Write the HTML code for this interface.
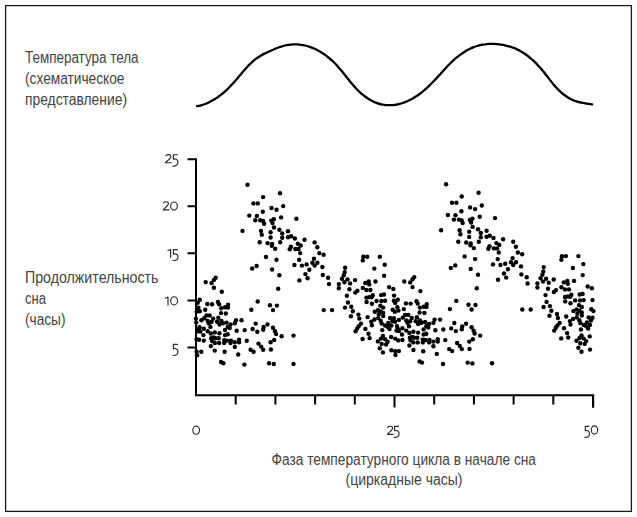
<!DOCTYPE html>
<html><head><meta charset="utf-8"><style>
html,body{margin:0;padding:0;background:#fff;width:637px;height:517px;overflow:hidden}
svg{display:block}
text{font-family:"Liberation Sans",sans-serif;fill:#444}
</style></head><body>
<svg width="637" height="517" viewBox="0 0 637 517">
<rect x="5.6" y="5.6" width="625.8" height="505.8" fill="none" stroke="#1a1a1a" stroke-width="1.3"/>
<path d="M197.1,106.2 C197.8,106.1 199.8,105.7 201.1,105.3 C202.4,104.9 203.8,104.5 205.1,104.0 C206.4,103.5 207.8,102.9 209.1,102.2 C210.4,101.6 211.8,100.9 213.1,100.1 C214.4,99.3 215.8,98.5 217.1,97.6 C218.4,96.6 219.8,95.7 221.1,94.6 C222.4,93.6 223.8,92.5 225.1,91.3 C226.4,90.1 227.8,88.8 229.1,87.5 C230.4,86.2 231.8,84.8 233.1,83.3 C234.4,81.8 235.8,80.3 237.1,78.7 C238.4,77.1 239.8,75.5 241.1,73.9 C242.4,72.3 243.8,70.7 245.1,69.2 C246.4,67.7 247.8,66.3 249.1,64.9 C250.4,63.6 251.8,62.3 253.1,61.1 C254.4,60.0 255.8,59.0 257.1,58.0 C258.4,57.1 259.8,56.3 261.1,55.5 C262.4,54.7 263.8,54.0 265.1,53.4 C266.4,52.7 267.8,52.1 269.1,51.5 C270.4,50.9 271.8,50.2 273.1,49.7 C274.4,49.1 275.8,48.5 277.1,48.0 C278.4,47.5 279.8,47.0 281.1,46.6 C282.4,46.2 283.8,45.8 285.1,45.5 C286.4,45.2 287.8,45.0 289.1,44.8 C290.4,44.6 291.8,44.5 293.1,44.4 C294.4,44.4 295.8,44.4 297.1,44.4 C298.4,44.5 299.8,44.6 301.1,44.8 C302.4,44.9 303.8,45.2 305.1,45.5 C306.4,45.8 307.8,46.2 309.1,46.6 C310.4,47.1 311.8,47.6 313.1,48.1 C314.4,48.7 315.8,49.3 317.1,50.0 C318.4,50.6 319.8,51.4 321.1,52.2 C322.4,53.0 323.8,53.9 325.1,54.9 C326.4,55.8 327.8,56.9 329.1,58.0 C330.4,59.1 331.8,60.3 333.1,61.5 C334.4,62.8 335.8,64.2 337.1,65.6 C338.4,67.1 339.8,68.7 341.1,70.3 C342.4,71.9 343.8,73.6 345.1,75.3 C346.4,77.0 347.8,78.7 349.1,80.3 C350.4,82.0 351.8,83.6 353.1,85.1 C354.4,86.6 355.8,88.1 357.1,89.5 C358.4,90.8 359.8,92.1 361.1,93.3 C362.4,94.4 363.8,95.5 365.1,96.5 C366.4,97.5 367.8,98.4 369.1,99.3 C370.4,100.1 371.8,100.8 373.1,101.4 C374.4,102.1 375.8,102.6 377.1,103.1 C378.4,103.6 379.8,104.0 381.1,104.3 C382.4,104.6 383.8,104.8 385.1,105.0 C386.4,105.1 387.8,105.2 389.1,105.2 C390.4,105.2 391.8,105.2 393.1,105.1 C394.4,104.9 395.8,104.7 397.1,104.5 C398.4,104.2 399.8,103.9 401.1,103.5 C402.4,103.1 403.8,102.6 405.1,102.1 C406.4,101.6 407.8,101.0 409.1,100.3 C410.4,99.7 411.8,98.9 413.1,98.2 C414.4,97.4 415.8,96.6 417.1,95.7 C418.4,94.8 419.8,93.8 421.1,92.8 C422.4,91.8 423.8,90.7 425.1,89.5 C426.4,88.4 427.8,87.1 429.1,85.9 C430.4,84.6 431.8,83.2 433.1,81.8 C434.4,80.5 435.8,79.0 437.1,77.6 C438.4,76.1 439.8,74.7 441.1,73.2 C442.4,71.7 443.8,70.2 445.1,68.7 C446.4,67.3 447.8,65.8 449.1,64.5 C450.4,63.1 451.8,61.8 453.1,60.6 C454.4,59.4 455.8,58.2 457.1,57.2 C458.4,56.1 459.8,55.0 461.1,54.1 C462.4,53.1 463.8,52.3 465.1,51.5 C466.4,50.6 467.8,49.9 469.1,49.2 C470.4,48.6 471.8,48.0 473.1,47.4 C474.4,46.9 475.8,46.4 477.1,46.0 C478.4,45.6 479.8,45.2 481.1,44.9 C482.4,44.6 483.8,44.4 485.1,44.3 C486.4,44.1 487.8,44.0 489.1,43.9 C490.4,43.9 491.8,43.9 493.1,43.9 C494.4,43.9 495.8,44.0 497.1,44.1 C498.4,44.3 499.8,44.4 501.1,44.6 C502.4,44.8 503.8,45.1 505.1,45.4 C506.4,45.7 507.8,46.0 509.1,46.4 C510.4,46.7 511.8,47.2 513.1,47.7 C514.4,48.2 515.8,48.7 517.1,49.4 C518.4,50.0 519.8,50.7 521.1,51.4 C522.4,52.2 523.8,53.1 525.1,54.0 C526.4,54.9 527.8,55.9 529.1,57.0 C530.4,58.1 531.8,59.2 533.1,60.4 C534.4,61.7 535.8,63.0 537.1,64.4 C538.4,65.8 539.8,67.3 541.1,68.8 C542.4,70.4 543.8,72.0 545.1,73.7 C546.4,75.4 547.8,77.2 549.1,78.9 C550.4,80.6 551.8,82.3 553.1,83.9 C554.4,85.5 555.8,87.0 557.1,88.4 C558.4,89.8 559.8,91.1 561.1,92.3 C562.4,93.5 563.8,94.6 565.1,95.5 C566.4,96.5 567.8,97.4 569.1,98.2 C570.4,99.0 571.8,99.6 573.1,100.2 C574.4,100.8 575.8,101.2 577.1,101.6 C578.4,102.0 579.8,102.3 581.1,102.6 C582.4,102.9 583.8,103.1 585.1,103.3 C586.4,103.5 587.9,103.7 589.1,103.9 C590.3,104.1 591.6,104.3 592.1,104.4" fill="none" stroke="#000" stroke-width="2.3" stroke-linecap="round"/>
<path d="M196,158.5 V395.2 H593.2 V407.5" fill="none" stroke="#000" stroke-width="2"/>
<path d="M187.5,347.4 H196 M187.5,300.4 H196 M187.5,253.3 H196 M187.5,206.2 H196 M187.5,159.2 H196 M235.7,395 V404.5 M275.4,395 V404.5 M315.1,395 V404.5 M354.8,395 V404.5 M394.5,395 V407.5 M434.2,395 V404.5 M473.9,395 V404.5 M513.6,395 V404.5 M553.3,395 V404.5 M593.0,395 V407.5 " fill="none" stroke="#000" stroke-width="2"/>
<g fill="#000"><circle cx="247.5" cy="184.8" r="2.2"/><circle cx="263.1" cy="197.1" r="2.2"/><circle cx="253.4" cy="203.4" r="2.2"/><circle cx="257.8" cy="203.4" r="2.2"/><circle cx="262.8" cy="211.8" r="2.2"/><circle cx="249.3" cy="215.6" r="2.2"/><circle cx="256.9" cy="215.9" r="2.2"/><circle cx="255.3" cy="220.2" r="2.2"/><circle cx="260.3" cy="220.2" r="2.2"/><circle cx="263.1" cy="221.0" r="2.2"/><circle cx="264.1" cy="223.7" r="2.2"/><circle cx="242.5" cy="230.9" r="2.2"/><circle cx="261.0" cy="230.9" r="2.2"/><circle cx="261.8" cy="234.8" r="2.2"/><circle cx="280.0" cy="193.3" r="2.2"/><circle cx="283.2" cy="206.1" r="2.2"/><circle cx="271.5" cy="208.0" r="2.2"/><circle cx="276.5" cy="209.7" r="2.2"/><circle cx="281.1" cy="217.4" r="2.2"/><circle cx="296.4" cy="218.7" r="2.2"/><circle cx="273.8" cy="219.3" r="2.2"/><circle cx="271.3" cy="220.6" r="2.2"/><circle cx="272.5" cy="223.1" r="2.2"/><circle cx="274.0" cy="227.5" r="2.2"/><circle cx="279.4" cy="229.8" r="2.2"/><circle cx="270.6" cy="232.3" r="2.2"/><circle cx="282.2" cy="233.5" r="2.2"/><circle cx="288.0" cy="231.3" r="2.2"/><circle cx="270.6" cy="237.5" r="2.2"/><circle cx="282.2" cy="237.8" r="2.2"/><circle cx="288.0" cy="237.3" r="2.2"/><circle cx="291.1" cy="236.3" r="2.2"/><circle cx="294.9" cy="238.5" r="2.2"/><circle cx="304.5" cy="239.8" r="2.2"/><circle cx="259.7" cy="242.3" r="2.2"/><circle cx="267.6" cy="243.1" r="2.2"/><circle cx="266.0" cy="257.0" r="2.2"/><circle cx="256.6" cy="266.0" r="2.2"/><circle cx="252.2" cy="268.5" r="2.2"/><circle cx="205.7" cy="282.1" r="2.2"/><circle cx="215.7" cy="277.7" r="2.2"/><circle cx="213.9" cy="279.9" r="2.2"/><circle cx="211.6" cy="283.0" r="2.2"/><circle cx="213.9" cy="287.7" r="2.2"/><circle cx="221.8" cy="291.7" r="2.2"/><circle cx="272.1" cy="244.0" r="2.2"/><circle cx="271.8" cy="245.8" r="2.2"/><circle cx="280.2" cy="242.3" r="2.2"/><circle cx="275.2" cy="248.7" r="2.2"/><circle cx="290.9" cy="246.8" r="2.2"/><circle cx="289.7" cy="249.3" r="2.2"/><circle cx="297.8" cy="243.7" r="2.2"/><circle cx="300.7" cy="245.5" r="2.2"/><circle cx="295.3" cy="249.0" r="2.2"/><circle cx="298.5" cy="249.0" r="2.2"/><circle cx="300.2" cy="253.1" r="2.2"/><circle cx="276.5" cy="259.7" r="2.2"/><circle cx="299.1" cy="259.7" r="2.2"/><circle cx="294.4" cy="265.0" r="2.2"/><circle cx="301.9" cy="265.6" r="2.2"/><circle cx="306.6" cy="264.4" r="2.2"/><circle cx="314.6" cy="242.4" r="2.2"/><circle cx="317.3" cy="247.3" r="2.2"/><circle cx="319.3" cy="253.1" r="2.2"/><circle cx="323.6" cy="254.8" r="2.2"/><circle cx="314.0" cy="258.7" r="2.2"/><circle cx="312.4" cy="262.8" r="2.2"/><circle cx="317.4" cy="262.8" r="2.2"/><circle cx="314.6" cy="265.6" r="2.2"/><circle cx="322.4" cy="267.0" r="2.2"/><circle cx="272.1" cy="269.5" r="2.2"/><circle cx="279.4" cy="275.3" r="2.2"/><circle cx="299.4" cy="280.4" r="2.2"/><circle cx="305.4" cy="274.1" r="2.2"/><circle cx="307.6" cy="278.2" r="2.2"/><circle cx="278.2" cy="288.8" r="2.2"/><circle cx="309.3" cy="269.8" r="2.2"/><circle cx="322.8" cy="275.0" r="2.2"/><circle cx="328.1" cy="277.8" r="2.2"/><circle cx="329.0" cy="284.1" r="2.2"/><circle cx="338.8" cy="284.1" r="2.2"/><circle cx="338.8" cy="288.2" r="2.2"/><circle cx="346.9" cy="295.7" r="2.2"/><circle cx="345.1" cy="267.7" r="2.2"/><circle cx="344.7" cy="272.1" r="2.2"/><circle cx="343.8" cy="275.3" r="2.2"/><circle cx="342.0" cy="278.8" r="2.2"/><circle cx="347.5" cy="279.4" r="2.2"/><circle cx="344.4" cy="282.2" r="2.2"/><circle cx="355.1" cy="280.1" r="2.2"/><circle cx="363.3" cy="256.8" r="2.2"/><circle cx="367.2" cy="256.7" r="2.2"/><circle cx="362.8" cy="260.4" r="2.2"/><circle cx="379.8" cy="256.7" r="2.2"/><circle cx="384.7" cy="264.7" r="2.2"/><circle cx="374.3" cy="268.6" r="2.2"/><circle cx="384.1" cy="275.7" r="2.2"/><circle cx="350.1" cy="283.4" r="2.2"/><circle cx="349.4" cy="289.3" r="2.2"/><circle cx="355.3" cy="292.6" r="2.2"/><circle cx="357.4" cy="290.7" r="2.2"/><circle cx="365.2" cy="283.0" r="2.2"/><circle cx="368.7" cy="281.5" r="2.2"/><circle cx="369.2" cy="284.4" r="2.2"/><circle cx="362.8" cy="287.9" r="2.2"/><circle cx="366.4" cy="290.0" r="2.2"/><circle cx="370.4" cy="290.0" r="2.2"/><circle cx="366.4" cy="297.6" r="2.2"/><circle cx="369.2" cy="297.1" r="2.2"/><circle cx="375.5" cy="281.5" r="2.2"/><circle cx="389.1" cy="287.1" r="2.2"/><circle cx="393.3" cy="288.9" r="2.2"/><circle cx="372.8" cy="295.3" r="2.2"/><circle cx="381.1" cy="295.1" r="2.2"/><circle cx="384.0" cy="294.5" r="2.2"/><circle cx="394.1" cy="295.6" r="2.2"/><circle cx="199.8" cy="299.8" r="2.2"/><circle cx="197.7" cy="302.8" r="2.2"/><circle cx="207.3" cy="304.0" r="2.2"/><circle cx="212.0" cy="304.2" r="2.2"/><circle cx="217.9" cy="301.9" r="2.2"/><circle cx="219.1" cy="304.2" r="2.2"/><circle cx="205.2" cy="309.7" r="2.2"/><circle cx="198.4" cy="307.8" r="2.2"/><circle cx="225.1" cy="307.3" r="2.2"/><circle cx="228.1" cy="304.7" r="2.2"/><circle cx="227.9" cy="307.5" r="2.2"/><circle cx="221.3" cy="308.2" r="2.2"/><circle cx="196.7" cy="311.6" r="2.2"/><circle cx="199.8" cy="311.2" r="2.2"/><circle cx="221.0" cy="313.1" r="2.2"/><circle cx="225.8" cy="313.5" r="2.2"/><circle cx="206.5" cy="315.5" r="2.2"/><circle cx="209.7" cy="315.5" r="2.2"/><circle cx="201.4" cy="320.2" r="2.2"/><circle cx="204.2" cy="318.2" r="2.2"/><circle cx="207.7" cy="321.0" r="2.2"/><circle cx="208.9" cy="323.3" r="2.2"/><circle cx="213.2" cy="318.6" r="2.2"/><circle cx="211.6" cy="321.8" r="2.2"/><circle cx="218.3" cy="317.8" r="2.2"/><circle cx="217.1" cy="321.8" r="2.2"/><circle cx="221.4" cy="321.0" r="2.2"/><circle cx="223.0" cy="323.3" r="2.2"/><circle cx="219.5" cy="324.5" r="2.2"/><circle cx="226.5" cy="322.6" r="2.2"/><circle cx="230.5" cy="324.5" r="2.2"/><circle cx="227.7" cy="326.9" r="2.2"/><circle cx="236.0" cy="320.2" r="2.2"/><circle cx="234.8" cy="323.3" r="2.2"/><circle cx="241.5" cy="320.2" r="2.2"/><circle cx="210.4" cy="326.9" r="2.2"/><circle cx="195.9" cy="318.6" r="2.2"/><circle cx="196.3" cy="322.6" r="2.2"/><circle cx="199.5" cy="327.3" r="2.2"/><circle cx="203.8" cy="328.8" r="2.2"/><circle cx="207.7" cy="331.2" r="2.2"/><circle cx="210.8" cy="333.5" r="2.2"/><circle cx="197.9" cy="331.2" r="2.2"/><circle cx="203.4" cy="335.1" r="2.2"/><circle cx="214.8" cy="332.4" r="2.2"/><circle cx="219.5" cy="333.2" r="2.2"/><circle cx="225.0" cy="330.0" r="2.2"/><circle cx="225.0" cy="335.1" r="2.2"/><circle cx="227.7" cy="334.3" r="2.2"/><circle cx="229.7" cy="328.1" r="2.2"/><circle cx="236.7" cy="330.8" r="2.2"/><circle cx="211.2" cy="338.3" r="2.2"/><circle cx="213.6" cy="337.5" r="2.2"/><circle cx="215.5" cy="338.3" r="2.2"/><circle cx="218.7" cy="338.3" r="2.2"/><circle cx="212.0" cy="341.0" r="2.2"/><circle cx="214.8" cy="343.0" r="2.2"/><circle cx="219.1" cy="343.0" r="2.2"/><circle cx="224.2" cy="340.2" r="2.2"/><circle cx="226.9" cy="340.6" r="2.2"/><circle cx="224.2" cy="343.0" r="2.2"/><circle cx="230.9" cy="340.6" r="2.2"/><circle cx="230.5" cy="343.0" r="2.2"/><circle cx="234.8" cy="342.2" r="2.2"/><circle cx="239.1" cy="339.8" r="2.2"/><circle cx="239.1" cy="342.2" r="2.2"/><circle cx="199.1" cy="339.8" r="2.2"/><circle cx="203.8" cy="340.6" r="2.2"/><circle cx="210.8" cy="346.1" r="2.2"/><circle cx="234.8" cy="346.9" r="2.2"/><circle cx="257.7" cy="301.5" r="2.2"/><circle cx="251.3" cy="309.7" r="2.2"/><circle cx="269.9" cy="305.3" r="2.2"/><circle cx="276.9" cy="305.6" r="2.2"/><circle cx="273.0" cy="310.1" r="2.2"/><circle cx="255.7" cy="323.6" r="2.2"/><circle cx="244.7" cy="330.1" r="2.2"/><circle cx="252.6" cy="329.0" r="2.2"/><circle cx="257.3" cy="331.7" r="2.2"/><circle cx="263.6" cy="327.0" r="2.2"/><circle cx="263.2" cy="329.8" r="2.2"/><circle cx="267.5" cy="324.4" r="2.2"/><circle cx="273.0" cy="327.8" r="2.2"/><circle cx="275.0" cy="331.3" r="2.2"/><circle cx="276.1" cy="334.1" r="2.2"/><circle cx="281.6" cy="336.2" r="2.2"/><circle cx="246.7" cy="340.7" r="2.2"/><circle cx="258.5" cy="343.6" r="2.2"/><circle cx="261.2" cy="346.6" r="2.2"/><circle cx="263.2" cy="349.7" r="2.2"/><circle cx="250.6" cy="349.7" r="2.2"/><circle cx="253.6" cy="351.7" r="2.2"/><circle cx="270.6" cy="342.2" r="2.2"/><circle cx="274.2" cy="339.9" r="2.2"/><circle cx="270.9" cy="349.5" r="2.2"/><circle cx="244.4" cy="364.6" r="2.2"/><circle cx="269.1" cy="363.2" r="2.2"/><circle cx="273.8" cy="364.0" r="2.2"/><circle cx="214.8" cy="350.6" r="2.2"/><circle cx="224.6" cy="351.8" r="2.2"/><circle cx="238.2" cy="354.5" r="2.2"/><circle cx="201.3" cy="351.8" r="2.2"/><circle cx="197.1" cy="355.3" r="2.2"/><circle cx="221.0" cy="362.0" r="2.2"/><circle cx="223.4" cy="363.2" r="2.2"/><circle cx="323.7" cy="310.1" r="2.2"/><circle cx="332.1" cy="310.1" r="2.2"/><circle cx="348.0" cy="302.5" r="2.2"/><circle cx="345.0" cy="307.6" r="2.2"/><circle cx="351.3" cy="306.7" r="2.2"/><circle cx="352.8" cy="311.3" r="2.2"/><circle cx="350.9" cy="316.3" r="2.2"/><circle cx="358.4" cy="314.6" r="2.2"/><circle cx="359.3" cy="318.6" r="2.2"/><circle cx="366.6" cy="302.0" r="2.2"/><circle cx="367.6" cy="317.1" r="2.2"/><circle cx="361.0" cy="323.6" r="2.2"/><circle cx="358.8" cy="326.1" r="2.2"/><circle cx="357.2" cy="328.4" r="2.2"/><circle cx="355.6" cy="331.2" r="2.2"/><circle cx="365.4" cy="328.9" r="2.2"/><circle cx="368.5" cy="333.7" r="2.2"/><circle cx="362.6" cy="339.0" r="2.2"/><circle cx="293.5" cy="335.6" r="2.2"/><circle cx="371.6" cy="297.3" r="2.2"/><circle cx="371.9" cy="303.8" r="2.2"/><circle cx="376.5" cy="301.0" r="2.2"/><circle cx="381.4" cy="301.0" r="2.2"/><circle cx="385.1" cy="300.7" r="2.2"/><circle cx="393.9" cy="300.7" r="2.2"/><circle cx="397.7" cy="299.8" r="2.2"/><circle cx="395.2" cy="302.9" r="2.2"/><circle cx="380.4" cy="305.7" r="2.2"/><circle cx="383.2" cy="307.6" r="2.2"/><circle cx="392.7" cy="309.8" r="2.2"/><circle cx="394.9" cy="311.7" r="2.2"/><circle cx="397.4" cy="307.3" r="2.2"/><circle cx="374.8" cy="311.7" r="2.2"/><circle cx="377.9" cy="310.1" r="2.2"/><circle cx="380.7" cy="311.4" r="2.2"/><circle cx="383.2" cy="313.0" r="2.2"/><circle cx="378.8" cy="314.2" r="2.2"/><circle cx="383.2" cy="316.1" r="2.2"/><circle cx="371.3" cy="321.7" r="2.2"/><circle cx="374.4" cy="319.5" r="2.2"/><circle cx="378.2" cy="318.0" r="2.2"/><circle cx="371.9" cy="325.2" r="2.2"/><circle cx="380.7" cy="320.8" r="2.2"/><circle cx="381.7" cy="323.6" r="2.2"/><circle cx="385.1" cy="325.5" r="2.2"/><circle cx="390.1" cy="318.0" r="2.2"/><circle cx="393.9" cy="318.3" r="2.2"/><circle cx="392.3" cy="321.1" r="2.2"/><circle cx="388.3" cy="323.0" r="2.2"/><circle cx="395.2" cy="321.7" r="2.2"/><circle cx="387.6" cy="326.8" r="2.2"/><circle cx="391.4" cy="325.5" r="2.2"/><circle cx="397.0" cy="326.1" r="2.2"/><circle cx="398.9" cy="319.9" r="2.2"/><circle cx="369.6" cy="338.1" r="2.2"/><circle cx="382.3" cy="330.1" r="2.2"/><circle cx="382.9" cy="336.0" r="2.2"/><circle cx="381.0" cy="338.6" r="2.2"/><circle cx="385.1" cy="339.2" r="2.2"/><circle cx="377.9" cy="341.4" r="2.2"/><circle cx="381.7" cy="343.9" r="2.2"/><circle cx="387.6" cy="341.7" r="2.2"/><circle cx="386.1" cy="344.5" r="2.2"/><circle cx="379.8" cy="348.3" r="2.2"/><circle cx="382.9" cy="352.4" r="2.2"/><circle cx="391.1" cy="337.0" r="2.2"/><circle cx="395.2" cy="338.6" r="2.2"/><circle cx="398.3" cy="340.4" r="2.2"/><circle cx="391.4" cy="350.2" r="2.2"/><circle cx="395.2" cy="351.1" r="2.2"/><circle cx="398.9" cy="351.1" r="2.2"/><circle cx="395.5" cy="354.9" r="2.2"/><circle cx="389.5" cy="329.1" r="2.2"/><circle cx="397.7" cy="328.5" r="2.2"/><circle cx="398.9" cy="331.0" r="2.2"/><circle cx="293.5" cy="363.9" r="2.2"/><circle cx="446.1" cy="184.2" r="2.2"/><circle cx="461.7" cy="196.5" r="2.2"/><circle cx="452.0" cy="202.8" r="2.2"/><circle cx="456.4" cy="202.8" r="2.2"/><circle cx="461.4" cy="211.2" r="2.2"/><circle cx="447.9" cy="215.0" r="2.2"/><circle cx="455.5" cy="215.3" r="2.2"/><circle cx="453.9" cy="219.6" r="2.2"/><circle cx="458.9" cy="219.6" r="2.2"/><circle cx="461.7" cy="220.4" r="2.2"/><circle cx="462.7" cy="223.1" r="2.2"/><circle cx="441.1" cy="230.3" r="2.2"/><circle cx="459.6" cy="230.3" r="2.2"/><circle cx="460.4" cy="234.2" r="2.2"/><circle cx="478.6" cy="192.7" r="2.2"/><circle cx="481.8" cy="205.5" r="2.2"/><circle cx="470.1" cy="207.4" r="2.2"/><circle cx="475.1" cy="209.1" r="2.2"/><circle cx="479.7" cy="216.8" r="2.2"/><circle cx="495.0" cy="218.1" r="2.2"/><circle cx="472.4" cy="218.7" r="2.2"/><circle cx="469.9" cy="220.0" r="2.2"/><circle cx="471.1" cy="222.5" r="2.2"/><circle cx="472.6" cy="226.9" r="2.2"/><circle cx="478.0" cy="229.2" r="2.2"/><circle cx="469.2" cy="231.7" r="2.2"/><circle cx="480.8" cy="232.9" r="2.2"/><circle cx="486.6" cy="230.7" r="2.2"/><circle cx="469.2" cy="236.9" r="2.2"/><circle cx="480.8" cy="237.2" r="2.2"/><circle cx="486.6" cy="236.7" r="2.2"/><circle cx="489.7" cy="235.7" r="2.2"/><circle cx="493.5" cy="237.9" r="2.2"/><circle cx="503.1" cy="239.2" r="2.2"/><circle cx="458.3" cy="241.7" r="2.2"/><circle cx="466.2" cy="242.5" r="2.2"/><circle cx="464.6" cy="256.4" r="2.2"/><circle cx="455.2" cy="265.4" r="2.2"/><circle cx="450.8" cy="267.9" r="2.2"/><circle cx="404.3" cy="281.5" r="2.2"/><circle cx="414.3" cy="277.1" r="2.2"/><circle cx="412.5" cy="279.3" r="2.2"/><circle cx="410.2" cy="282.4" r="2.2"/><circle cx="412.5" cy="287.1" r="2.2"/><circle cx="420.4" cy="291.1" r="2.2"/><circle cx="470.7" cy="243.4" r="2.2"/><circle cx="470.4" cy="245.2" r="2.2"/><circle cx="478.8" cy="241.7" r="2.2"/><circle cx="473.8" cy="248.1" r="2.2"/><circle cx="489.5" cy="246.2" r="2.2"/><circle cx="488.3" cy="248.7" r="2.2"/><circle cx="496.4" cy="243.1" r="2.2"/><circle cx="499.3" cy="244.9" r="2.2"/><circle cx="493.9" cy="248.4" r="2.2"/><circle cx="497.1" cy="248.4" r="2.2"/><circle cx="498.8" cy="252.5" r="2.2"/><circle cx="475.1" cy="259.1" r="2.2"/><circle cx="497.7" cy="259.1" r="2.2"/><circle cx="493.0" cy="264.4" r="2.2"/><circle cx="500.5" cy="265.0" r="2.2"/><circle cx="505.2" cy="263.8" r="2.2"/><circle cx="513.2" cy="241.8" r="2.2"/><circle cx="515.9" cy="246.7" r="2.2"/><circle cx="517.9" cy="252.5" r="2.2"/><circle cx="522.2" cy="254.2" r="2.2"/><circle cx="512.6" cy="258.1" r="2.2"/><circle cx="511.0" cy="262.2" r="2.2"/><circle cx="516.0" cy="262.2" r="2.2"/><circle cx="513.2" cy="265.0" r="2.2"/><circle cx="521.0" cy="266.4" r="2.2"/><circle cx="470.7" cy="268.9" r="2.2"/><circle cx="478.0" cy="274.7" r="2.2"/><circle cx="498.0" cy="279.8" r="2.2"/><circle cx="504.0" cy="273.5" r="2.2"/><circle cx="506.2" cy="277.6" r="2.2"/><circle cx="476.8" cy="288.2" r="2.2"/><circle cx="507.9" cy="269.2" r="2.2"/><circle cx="521.4" cy="274.4" r="2.2"/><circle cx="526.7" cy="277.2" r="2.2"/><circle cx="527.6" cy="283.5" r="2.2"/><circle cx="537.4" cy="283.5" r="2.2"/><circle cx="537.4" cy="287.6" r="2.2"/><circle cx="545.5" cy="295.1" r="2.2"/><circle cx="543.7" cy="267.1" r="2.2"/><circle cx="543.3" cy="271.5" r="2.2"/><circle cx="542.4" cy="274.7" r="2.2"/><circle cx="540.6" cy="278.2" r="2.2"/><circle cx="546.1" cy="278.8" r="2.2"/><circle cx="543.0" cy="281.6" r="2.2"/><circle cx="553.7" cy="279.5" r="2.2"/><circle cx="561.9" cy="256.2" r="2.2"/><circle cx="565.8" cy="256.1" r="2.2"/><circle cx="561.4" cy="259.8" r="2.2"/><circle cx="578.4" cy="256.1" r="2.2"/><circle cx="583.3" cy="264.1" r="2.2"/><circle cx="572.9" cy="268.0" r="2.2"/><circle cx="582.7" cy="275.1" r="2.2"/><circle cx="548.7" cy="282.8" r="2.2"/><circle cx="548.0" cy="288.7" r="2.2"/><circle cx="553.9" cy="292.0" r="2.2"/><circle cx="556.0" cy="290.1" r="2.2"/><circle cx="563.8" cy="282.4" r="2.2"/><circle cx="567.3" cy="280.9" r="2.2"/><circle cx="567.8" cy="283.8" r="2.2"/><circle cx="561.4" cy="287.3" r="2.2"/><circle cx="565.0" cy="289.4" r="2.2"/><circle cx="569.0" cy="289.4" r="2.2"/><circle cx="565.0" cy="297.0" r="2.2"/><circle cx="567.8" cy="296.5" r="2.2"/><circle cx="574.1" cy="280.9" r="2.2"/><circle cx="587.7" cy="286.5" r="2.2"/><circle cx="591.9" cy="288.3" r="2.2"/><circle cx="571.4" cy="294.7" r="2.2"/><circle cx="579.7" cy="294.5" r="2.2"/><circle cx="582.6" cy="293.9" r="2.2"/><circle cx="405.9" cy="303.4" r="2.2"/><circle cx="410.6" cy="303.6" r="2.2"/><circle cx="416.5" cy="301.3" r="2.2"/><circle cx="417.7" cy="303.6" r="2.2"/><circle cx="403.8" cy="309.1" r="2.2"/><circle cx="423.7" cy="306.7" r="2.2"/><circle cx="426.7" cy="304.1" r="2.2"/><circle cx="426.5" cy="306.9" r="2.2"/><circle cx="419.9" cy="307.6" r="2.2"/><circle cx="398.4" cy="310.6" r="2.2"/><circle cx="419.6" cy="312.5" r="2.2"/><circle cx="424.4" cy="312.9" r="2.2"/><circle cx="405.1" cy="314.9" r="2.2"/><circle cx="408.3" cy="314.9" r="2.2"/><circle cx="402.8" cy="317.6" r="2.2"/><circle cx="406.3" cy="320.4" r="2.2"/><circle cx="407.5" cy="322.7" r="2.2"/><circle cx="411.8" cy="318.0" r="2.2"/><circle cx="410.2" cy="321.2" r="2.2"/><circle cx="416.9" cy="317.2" r="2.2"/><circle cx="415.7" cy="321.2" r="2.2"/><circle cx="420.0" cy="320.4" r="2.2"/><circle cx="421.6" cy="322.7" r="2.2"/><circle cx="418.1" cy="323.9" r="2.2"/><circle cx="425.1" cy="322.0" r="2.2"/><circle cx="429.1" cy="323.9" r="2.2"/><circle cx="426.3" cy="326.3" r="2.2"/><circle cx="434.6" cy="319.6" r="2.2"/><circle cx="433.4" cy="322.7" r="2.2"/><circle cx="440.1" cy="319.6" r="2.2"/><circle cx="409.0" cy="326.3" r="2.2"/><circle cx="402.4" cy="328.2" r="2.2"/><circle cx="406.3" cy="330.6" r="2.2"/><circle cx="409.4" cy="332.9" r="2.2"/><circle cx="396.5" cy="330.6" r="2.2"/><circle cx="402.0" cy="334.5" r="2.2"/><circle cx="413.4" cy="331.8" r="2.2"/><circle cx="418.1" cy="332.6" r="2.2"/><circle cx="423.6" cy="329.4" r="2.2"/><circle cx="423.6" cy="334.5" r="2.2"/><circle cx="426.3" cy="333.7" r="2.2"/><circle cx="428.3" cy="327.5" r="2.2"/><circle cx="435.3" cy="330.2" r="2.2"/><circle cx="409.8" cy="337.7" r="2.2"/><circle cx="412.2" cy="336.9" r="2.2"/><circle cx="414.1" cy="337.7" r="2.2"/><circle cx="417.3" cy="337.7" r="2.2"/><circle cx="410.6" cy="340.4" r="2.2"/><circle cx="413.4" cy="342.4" r="2.2"/><circle cx="417.7" cy="342.4" r="2.2"/><circle cx="422.8" cy="339.6" r="2.2"/><circle cx="425.5" cy="340.0" r="2.2"/><circle cx="422.8" cy="342.4" r="2.2"/><circle cx="429.5" cy="340.0" r="2.2"/><circle cx="429.1" cy="342.4" r="2.2"/><circle cx="433.4" cy="341.6" r="2.2"/><circle cx="437.7" cy="339.2" r="2.2"/><circle cx="437.7" cy="341.6" r="2.2"/><circle cx="402.4" cy="340.0" r="2.2"/><circle cx="409.4" cy="345.5" r="2.2"/><circle cx="433.4" cy="346.3" r="2.2"/><circle cx="456.3" cy="300.9" r="2.2"/><circle cx="449.9" cy="309.1" r="2.2"/><circle cx="468.5" cy="304.7" r="2.2"/><circle cx="475.5" cy="305.0" r="2.2"/><circle cx="471.6" cy="309.5" r="2.2"/><circle cx="454.3" cy="323.0" r="2.2"/><circle cx="443.3" cy="329.5" r="2.2"/><circle cx="451.2" cy="328.4" r="2.2"/><circle cx="455.9" cy="331.1" r="2.2"/><circle cx="462.2" cy="326.4" r="2.2"/><circle cx="461.8" cy="329.2" r="2.2"/><circle cx="466.1" cy="323.8" r="2.2"/><circle cx="471.6" cy="327.2" r="2.2"/><circle cx="473.6" cy="330.7" r="2.2"/><circle cx="474.7" cy="333.5" r="2.2"/><circle cx="480.2" cy="335.6" r="2.2"/><circle cx="445.3" cy="340.1" r="2.2"/><circle cx="457.1" cy="343.0" r="2.2"/><circle cx="459.8" cy="346.0" r="2.2"/><circle cx="461.8" cy="349.1" r="2.2"/><circle cx="449.2" cy="349.1" r="2.2"/><circle cx="452.2" cy="351.1" r="2.2"/><circle cx="469.2" cy="341.6" r="2.2"/><circle cx="472.8" cy="339.3" r="2.2"/><circle cx="469.5" cy="348.9" r="2.2"/><circle cx="443.0" cy="364.0" r="2.2"/><circle cx="467.7" cy="362.6" r="2.2"/><circle cx="472.4" cy="363.4" r="2.2"/><circle cx="413.4" cy="350.0" r="2.2"/><circle cx="423.2" cy="351.2" r="2.2"/><circle cx="436.8" cy="353.9" r="2.2"/><circle cx="419.6" cy="361.4" r="2.2"/><circle cx="422.0" cy="362.6" r="2.2"/><circle cx="522.3" cy="309.5" r="2.2"/><circle cx="530.7" cy="309.5" r="2.2"/><circle cx="546.6" cy="301.9" r="2.2"/><circle cx="543.6" cy="307.0" r="2.2"/><circle cx="549.9" cy="306.1" r="2.2"/><circle cx="551.4" cy="310.7" r="2.2"/><circle cx="549.5" cy="315.7" r="2.2"/><circle cx="557.0" cy="314.0" r="2.2"/><circle cx="557.9" cy="318.0" r="2.2"/><circle cx="565.2" cy="301.4" r="2.2"/><circle cx="566.2" cy="316.5" r="2.2"/><circle cx="559.6" cy="323.0" r="2.2"/><circle cx="557.4" cy="325.5" r="2.2"/><circle cx="555.8" cy="327.8" r="2.2"/><circle cx="554.2" cy="330.6" r="2.2"/><circle cx="564.0" cy="328.3" r="2.2"/><circle cx="567.1" cy="333.1" r="2.2"/><circle cx="561.2" cy="338.4" r="2.2"/><circle cx="570.2" cy="296.7" r="2.2"/><circle cx="570.5" cy="303.2" r="2.2"/><circle cx="575.1" cy="300.4" r="2.2"/><circle cx="580.0" cy="300.4" r="2.2"/><circle cx="583.7" cy="300.1" r="2.2"/><circle cx="592.5" cy="300.1" r="2.2"/><circle cx="579.0" cy="305.1" r="2.2"/><circle cx="581.8" cy="307.0" r="2.2"/><circle cx="591.3" cy="309.2" r="2.2"/><circle cx="593.5" cy="311.1" r="2.2"/><circle cx="573.4" cy="311.1" r="2.2"/><circle cx="576.5" cy="309.5" r="2.2"/><circle cx="579.3" cy="310.8" r="2.2"/><circle cx="581.8" cy="312.4" r="2.2"/><circle cx="577.4" cy="313.6" r="2.2"/><circle cx="581.8" cy="315.5" r="2.2"/><circle cx="569.9" cy="321.1" r="2.2"/><circle cx="573.0" cy="318.9" r="2.2"/><circle cx="576.8" cy="317.4" r="2.2"/><circle cx="570.5" cy="324.6" r="2.2"/><circle cx="579.3" cy="320.2" r="2.2"/><circle cx="580.3" cy="323.0" r="2.2"/><circle cx="583.7" cy="324.9" r="2.2"/><circle cx="588.7" cy="317.4" r="2.2"/><circle cx="592.5" cy="317.7" r="2.2"/><circle cx="590.9" cy="320.5" r="2.2"/><circle cx="586.9" cy="322.4" r="2.2"/><circle cx="586.2" cy="326.2" r="2.2"/><circle cx="590.0" cy="324.9" r="2.2"/><circle cx="568.2" cy="337.5" r="2.2"/><circle cx="580.9" cy="329.5" r="2.2"/><circle cx="581.5" cy="335.4" r="2.2"/><circle cx="579.6" cy="338.0" r="2.2"/><circle cx="583.7" cy="338.6" r="2.2"/><circle cx="576.5" cy="340.8" r="2.2"/><circle cx="580.3" cy="343.3" r="2.2"/><circle cx="586.2" cy="341.1" r="2.2"/><circle cx="584.7" cy="343.9" r="2.2"/><circle cx="578.4" cy="347.7" r="2.2"/><circle cx="581.5" cy="351.8" r="2.2"/><circle cx="589.7" cy="336.4" r="2.2"/><circle cx="590.0" cy="349.6" r="2.2"/><circle cx="588.1" cy="328.5" r="2.2"/><circle cx="492.1" cy="363.3" r="2.2"/><circle cx="196.6" cy="339.2" r="2.2"/><circle cx="196.6" cy="351.7" r="2.2"/><circle cx="199.1" cy="329.1" r="2.2"/><circle cx="200.3" cy="331.6" r="2.2"/></g>
<g font-size="16">
<text x="25" y="62.5" textLength="113.5" lengthAdjust="spacingAndGlyphs">Температура тела</text>
<text x="25" y="83.8" textLength="99.5" lengthAdjust="spacingAndGlyphs">(схематическое</text>
<text x="25" y="104.8" textLength="102" lengthAdjust="spacingAndGlyphs">представление)</text>
<text x="25" y="283.4" textLength="133.5" lengthAdjust="spacingAndGlyphs">Продолжительность</text>
<text x="25" y="304.3" textLength="21" lengthAdjust="spacingAndGlyphs">сна</text>
<text x="25" y="325" textLength="40.5" lengthAdjust="spacingAndGlyphs">(часы)</text>
<text x="271.5" y="464.5" textLength="264.5" lengthAdjust="spacingAndGlyphs">Фаза температурного цикла в начале сна</text>
<text x="345.5" y="485.3" textLength="117" lengthAdjust="spacingAndGlyphs">(циркадные часы)</text>
</g>
<g fill="none" stroke="#2a2a2a" stroke-width="1.15" stroke-linecap="round" stroke-linejoin="round"><path d="M165.90,155.80 C166.80,154.30 171.20,153.90 170.90,156.70 C170.60,158.50 166.70,161.30 165.50,162.70 H171.50"/><path d="M177.50,154.70 H173.40 V159.20 C175.90,158.30 178.10,159.70 178.00,162.30 C177.90,165.00 175.30,166.40 173.00,166.20"/><path d="M163.50,202.90 C164.40,201.40 168.70,201.00 168.40,203.80 C168.10,205.60 164.30,208.50 163.10,209.90 H169.00"/><ellipse cx="174.00" cy="206.00" rx="3.35" ry="4.05"/><path d="M168.10,250.60 L170.60,249.40 V257.40"/><path d="M177.50,249.60 H173.40 V254.10 C175.90,253.20 178.10,254.60 178.00,257.20 C177.90,259.90 175.30,260.70 173.00,260.50"/><path d="M165.50,298.30 L168.00,297.10 V305.10"/><ellipse cx="174.10" cy="300.85" rx="3.45" ry="4.10"/><path d="M177.50,344.30 H173.40 V348.80 C175.90,347.90 178.10,349.30 178.00,351.90 C177.90,354.60 175.30,355.70 173.00,355.50"/><ellipse cx="196.20" cy="430.20" rx="3.35" ry="4.05"/><path d="M387.70,427.40 C388.60,425.90 392.90,425.50 392.60,428.30 C392.30,430.10 388.50,432.90 387.30,434.30 H393.20"/><path d="M398.60,426.30 H394.60 V430.80 C397.10,429.90 399.20,431.30 399.10,433.90 C399.00,436.60 396.50,437.60 394.20,437.40"/><path d="M589.00,426.30 H585.30 V430.80 C587.80,429.90 589.60,431.30 589.50,433.90 C589.40,436.60 587.20,437.60 584.90,437.40"/><ellipse cx="594.45" cy="430.05" rx="3.20" ry="4.10"/></g>
</svg>
</body></html>
